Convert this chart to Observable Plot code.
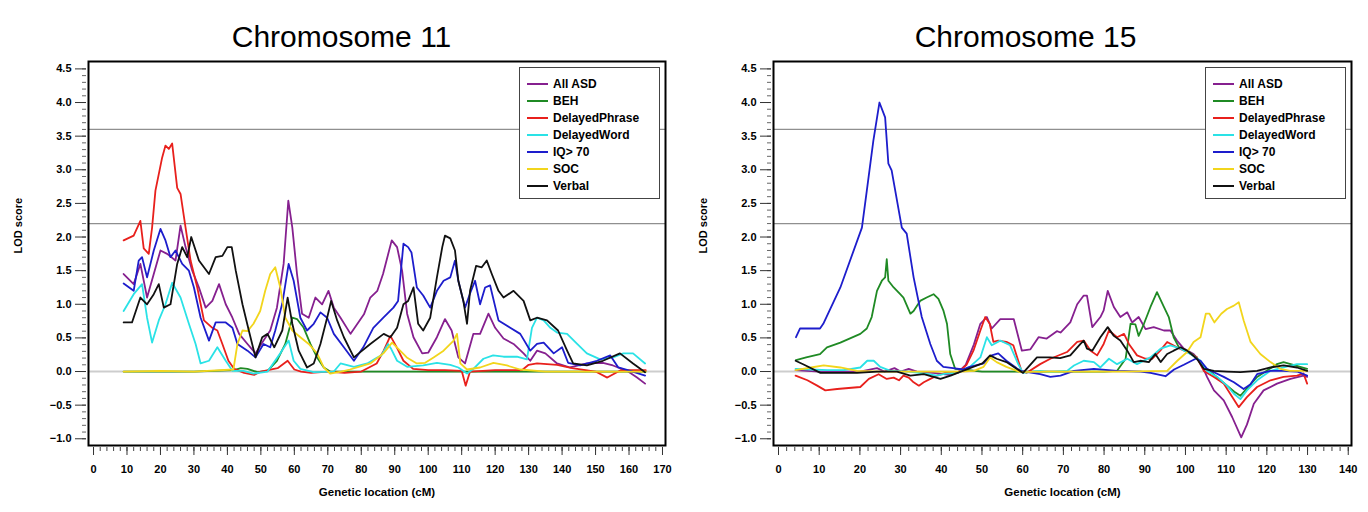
<!DOCTYPE html>
<html><head><meta charset="utf-8">
<script src="https://cdn.jsdelivr.net/npm/d3@7"></script>
<script src="https://cdn.jsdelivr.net/npm/@observablehq/plot@0.6"></script>
<style>
body{margin:0;background:#fff;}
#wrap{position:relative;width:1368px;height:512px;overflow:hidden;font-family:"Liberation Sans",Arial,sans-serif;}
.panel{position:absolute;top:0;}
.legend{position:absolute;background:#fff;border:1.5px solid #444;box-sizing:border-box;width:141px;height:132px;}
.legend .row{position:absolute;left:0;height:17px;display:flex;align-items:center;font-size:12px;font-weight:bold;color:#000;white-space:nowrap;}
.legend .sw{width:21px;height:2px;margin-left:7px;margin-right:5px;}
</style></head>
<body><div id="wrap"></div>
<script>
// ---------- labels, colours, ticks ----------
const seriesNames = ["All ASD","BEH","DelayedPhrase","DelayedWord","IQ> 70","SOC","Verbal"];
const seriesColors = ["#86208f","#1f8a24","#e8201c","#2ae2e6","#1d1dcc","#f2d51c","#111111"];
const titles = ["Chromosome 11","Chromosome 15"];
const xTicks11 = [0,10,20,30,40,50,60,70,80,90,100,110,120,130,140,150,160,170];
const xTicks15 = [0,10,20,30,40,50,60,70,80,90,100,110,120,130,140];
const yTicks = [-1.0,-0.5,0.0,0.5,1.0,1.5,2.0,2.5,3.0,3.5,4.0,4.5];
const thresholds = [2.2,3.6];

// ---------- Chromosome 11 : [cM, LOD] ----------
const chr11_AllASD = [[9,1.45],[12,1.3],[14,1.6],[16,1.1],[18,1.45],[20,1.8],[22,1.75],[24.5,1.65],[26,2.17],[27.5,1.85],[29.5,1.5],[31.5,1.25],[33.5,0.95],[35.5,1.05],[37.5,1.3],[39.5,1.0],[41.5,0.8],[43.5,0.56],[46,0.41],[48.4,0.27],[50.8,0.46],[52.8,0.61],[54.8,0.95],[56.8,1.6],[58.2,2.54],[59.4,2.14],[60.8,1.45],[62.3,0.86],[64.3,0.8],[66.3,1.1],[68.3,1.0],[70.2,1.2],[71.8,0.95],[73.8,0.8],[76.8,0.56],[80.8,0.85],[82.7,1.1],[84.8,1.2],[86.5,1.45],[89.1,1.95],[90.7,1.85],[92.2,1.5],[93.7,0.86],[95.6,0.51],[98.2,0.27],[100,0.28],[102.6,0.51],[105,0.78],[107,0.61],[109,0.21],[111,0.12],[113.5,0.56],[115.5,0.56],[118,0.86],[120,0.65],[122.5,0.49],[125.5,0.41],[128.5,0.27],[130.5,0.16],[132.5,0.31],[135,0.27],[138.5,0.12],[142.4,0.06],[147.4,0.12],[152.2,0.13],[155.2,0.09],[159.4,0.01],[162.4,-0.09],[164.8,-0.18]];
const chr11_BEH = [[9,0],[20,0],[30,0],[42,0.02],[44,0.05],[46,0.04],[49,-0.01],[52,0.01],[54.8,0.16],[57.3,0.41],[59.4,0.8],[60.8,0.78],[62.8,0.65],[64.8,0.41],[66.8,0.21],[68.8,0.06],[70.7,0],[90,0],[120,0],[150,0],[165,0]];
const chr11_DelayedPhrase = [[9,1.95],[12,2.02],[14,2.24],[15,1.83],[16.5,1.75],[17.5,2.14],[18.5,2.69],[20.5,3.18],[21.5,3.36],[22.5,3.31],[23.5,3.39],[25,2.73],[26,2.64],[27.5,2.14],[29,1.65],[31,1.25],[33,0.76],[35.5,0.65],[37,0.61],[38.5,0.41],[40.3,0.16],[42,0.04],[45,-0.02],[48,-0.05],[50,0],[55,0.05],[58,0.16],[60,0.03],[62,0],[65,-0.02],[70,0],[75,-0.02],[80,0],[84.6,0.12],[86.7,0.31],[88.7,0.53],[90.6,0.36],[92.6,0.16],[95.5,0.04],[100,0.02],[105,0.02],[110,0.01],[111.2,-0.21],[112.5,0],[120,0.02],[128,0.02],[130,0.1],[132.5,0.12],[138.5,0.1],[143,0.05],[150,0],[153.5,-0.09],[157.5,0.02],[165,0.02]];
const chr11_DelayedWord = [[9,0.9],[12,1.15],[14.5,1.3],[16,0.8],[17.5,0.43],[19.5,0.76],[21.5,1.0],[23.5,1.32],[26,1.1],[28.5,0.71],[30.5,0.41],[32,0.12],[34.5,0.16],[37,0.36],[39.5,0.16],[41.5,0.01],[44.8,0.01],[47.8,-0.03],[52,0],[55.8,0.27],[58.3,0.46],[59.8,0.16],[61.8,0.04],[65.8,-0.01],[71.8,0],[73.8,0.12],[77.8,0.07],[81.8,0.12],[84.5,0.2],[86,0.24],[88,0.41],[89,0.33],[90.7,0.16],[93.7,0.07],[98.5,0.09],[102.6,0.13],[106.6,0.1],[109,0.06],[111.6,-0.03],[113.5,0.04],[116.5,0.19],[119.4,0.24],[122.5,0.22],[126.5,0.22],[129.5,0.18],[131,0.65],[132.5,0.8],[134.5,0.76],[136.5,0.65],[138.5,0.58],[141.5,0.56],[144.5,0.41],[147.4,0.27],[151.4,0.18],[155.2,0.21],[158.3,0.27],[161.2,0.27],[164.8,0.12]];
const chr11_IQ70 = [[9,1.31],[12,1.2],[13.5,1.65],[14.5,1.7],[16,1.4],[18,1.8],[20,2.12],[21.5,1.95],[23,1.7],[24.5,1.8],[26.5,1.6],[28.5,1.5],[30,1.25],[32,0.8],[34.5,0.46],[36.5,0.73],[39.5,0.73],[41.5,0.65],[43,0.41],[46,0.31],[48.4,0.21],[50.8,0.41],[52.8,0.36],[54.3,0.61],[56.4,1.01],[58.3,1.6],[59.8,1.35],[61.8,0.8],[63.8,0.61],[65.8,0.71],[67.8,0.88],[69.8,0.8],[71.8,0.56],[74.8,0.36],[77.8,0.16],[80.6,0.36],[83.6,0.65],[86.6,0.8],[89.6,0.95],[91,1.05],[92.6,1.9],[94,1.85],[95,1.77],[96.6,1.25],[98.5,1.13],[100.6,0.95],[102.6,1.2],[104.6,1.35],[106.6,1.4],[108,1.65],[109,1.35],[111,0.95],[112.5,1.16],[114,1.35],[115.5,1.0],[117,1.25],[118.5,1.28],[121,0.76],[124.5,0.65],[127.5,0.56],[130.5,0.31],[132.5,0.41],[134.5,0.43],[137.5,0.27],[140,0.36],[141.8,0.13],[145.4,0.09],[150.4,0.16],[154.4,0.24],[156.8,0.06],[160.4,0.01],[164.8,-0.06]];
const chr11_SOC = [[9,0],[20,0.01],[30,0],[41.8,0.03],[43,0.41],[44.5,0.61],[46,0.6],[47.8,0.71],[49.8,0.9],[51.3,1.2],[52.8,1.45],[54.3,1.55],[55.8,1.25],[57.3,0.8],[59.4,0.61],[61.8,0.51],[64.3,0.41],[66.8,0.27],[68.8,0.06],[70.7,-0.03],[74,0],[76.6,0.03],[80,0.08],[82.7,0.12],[86.6,0.27],[89.2,0.43],[91.6,0.31],[93.6,0.21],[96.6,0.12],[99.1,0.13],[101.6,0.21],[104.6,0.31],[107.6,0.46],[108.6,0.56],[109.6,0.12],[111.6,0.03],[115.5,0.06],[119.5,0.13],[123.5,0.09],[127.5,0.03],[135,0],[150,0],[165,0]];
const chr11_Verbal = [[9,0.73],[11.5,0.73],[14,1.1],[16,1.0],[18,1.15],[19.5,1.3],[21,0.95],[23,1.0],[25,1.6],[26.5,1.85],[28,1.7],[29.2,2.0],[31.5,1.65],[34.5,1.45],[36.5,1.7],[38.5,1.72],[40,1.85],[41.3,1.85],[42.5,1.5],[44.5,1.0],[46.4,0.61],[48.4,0.21],[50.4,0.51],[52,0.56],[54,0.36],[56.4,0.61],[58,1.1],[59.4,0.71],[61.3,0.31],[63.8,0.06],[65.8,0.12],[67.8,0.41],[69.8,0.8],[71,1.05],[72.8,0.76],[74.8,0.51],[77.8,0.21],[80,0.3],[82.7,0.41],[86.7,0.56],[88.7,0.51],[90.7,0.65],[92.6,1.0],[94,1.05],[95.6,1.25],[97,0.71],[98.5,0.61],[100.6,0.8],[102.6,1.4],[104.2,1.85],[105,2.02],[106.6,1.98],[108,1.8],[109,1.35],[110.5,1.05],[111.6,0.71],[112.5,1.2],[114.3,1.57],[116,1.55],[117.5,1.65],[119,1.45],[121,1.2],[122.5,1.1],[125.5,1.2],[128.5,1.05],[130.5,0.76],[132.5,0.8],[135.5,0.76],[138.8,0.61],[141.5,0.31],[143.3,0.12],[147.4,0.09],[152.2,0.16],[157.3,0.27],[161.2,0.12],[164.8,-0.01]];

// ---------- Chromosome 15 : [cM, LOD] ----------
const chr15_AllASD = [[4.2,0.02],[10,0],[15,0],[20,0],[24.2,0.05],[26,0],[28.5,0.05],[30,0],[32,0.04],[34,0],[38,-0.02],[42,-0.05],[44,-0.02],[46,0.1],[48,0.4],[49.6,0.71],[51.2,0.81],[52.4,0.64],[54.5,0.78],[57.8,0.78],[59.8,0.31],[61.9,0.33],[63.9,0.51],[65.9,0.49],[68.4,0.6],[69.3,0.58],[71.7,0.73],[73.4,1.0],[75,1.13],[75.8,1.13],[77.1,0.66],[79.1,0.81],[79.9,0.91],[80.9,1.2],[82.4,0.96],[84,0.81],[85.7,0.88],[86.9,0.73],[88.5,0.81],[90.2,0.63],[92.2,0.66],[94.7,0.61],[96.3,0.61],[97.9,0.46],[99.6,0.34],[102,0.26],[103.7,0.14],[105.3,-0.08],[107,-0.28],[109.4,-0.43],[111.5,-0.68],[113.7,-0.98],[115.1,-0.79],[116.8,-0.48],[119.2,-0.28],[122.5,-0.18],[125.8,-0.11],[129,-0.06],[129.9,-0.08]];
const chr15_BEH = [[4.3,0.17],[6.8,0.21],[10.2,0.26],[11.9,0.36],[15.2,0.43],[20.1,0.56],[21.7,0.64],[22.9,0.81],[24.2,1.2],[25.4,1.35],[26.2,1.4],[26.6,1.67],[27,1.35],[28.3,1.25],[29.9,1.15],[30.7,1.1],[32.4,0.86],[33.2,0.9],[34.8,1.05],[36.4,1.1],[38.1,1.15],[39.3,1.08],[40.5,0.91],[41.4,0.71],[42.2,0.26],[43.4,0.04],[45.3,0.03],[50,0],[60,0],[70,0],[80,0],[83.2,0.01],[85.3,0.19],[86.5,0.71],[87.7,0.7],[88.5,0.53],[89.8,0.71],[91.4,0.96],[93,1.18],[94.7,0.96],[95.9,0.81],[97.1,0.51],[98.4,0.36],[100.4,0.31],[102.8,0.21],[104.1,0.09],[106.1,0],[108,-0.1],[110,-0.2],[112,-0.3],[113.5,-0.36],[115.1,-0.25],[117.6,-0.08],[120.9,0.05],[122.5,0.11],[124.1,0.14],[126.5,0.1],[129.9,0.04]];
const chr15_DelayedPhrase = [[4.2,-0.06],[7.1,-0.13],[9.5,-0.21],[11.5,-0.28],[14.4,-0.26],[20.1,-0.23],[22.2,-0.11],[24.6,-0.04],[26.6,-0.11],[28.3,-0.09],[29.6,-0.13],[30.7,-0.06],[32,-0.09],[33.2,-0.16],[34.5,-0.21],[35.7,-0.16],[37.3,-0.11],[39,-0.06],[41,-0.02],[44,-0.02],[46.2,0.1],[47.9,0.31],[49.6,0.61],[50.8,0.81],[51.9,0.71],[52.8,0.44],[54,0.46],[56,0.44],[57.7,0.39],[59.7,0.01],[61,-0.02],[64.3,0.11],[66.8,0.19],[70.9,0.29],[73.4,0.44],[75,0.46],[76.7,0.31],[78.3,0.24],[79.9,0.41],[81.2,0.61],[83.2,0.51],[84.9,0.56],[86.1,0.41],[88.1,0.24],[90.2,0.19],[91.8,0.19],[93.8,0.31],[95.5,0.44],[97.9,0.36],[100.4,0.29],[102.8,0.21],[104.5,0.01],[107,-0.08],[109.4,-0.18],[111.5,-0.38],[113.1,-0.53],[115.1,-0.38],[117.6,-0.23],[120.9,-0.13],[124.1,-0.08],[127.4,-0.06],[129,-0.03],[129.9,-0.18]];
const chr15_DelayedWord = [[4.2,0.04],[8,0.03],[12,0.02],[16,0.02],[20.1,0.06],[21.8,0.16],[23.4,0.16],[25,0.07],[27.5,0.01],[32,0],[36,-0.03],[38.9,-0.06],[41,-0.03],[44,-0.02],[47,0.07],[49.6,0.21],[51.2,0.51],[52.4,0.39],[54.5,0.46],[56.9,0.39],[58.9,0.11],[60.1,-0.02],[64.3,0.01],[66.8,-0.01],[70.9,0.01],[72.6,0.09],[75,0.16],[77.5,0.14],[79.1,0.06],[81.2,0.19],[83.2,0.11],[85.7,0.19],[88.1,0.11],[91.4,0.21],[93.9,0.34],[96.3,0.39],[98.8,0.34],[101.2,0.26],[103.7,0.16],[105.3,0.01],[107.8,-0.08],[110.2,-0.21],[111.9,-0.33],[113.5,-0.41],[115.1,-0.28],[117.6,-0.13],[120.9,0.01],[124.1,0.06],[127.4,0.11],[129.9,0.11]];
const chr15_IQ70 = [[4.3,0.51],[5.3,0.64],[10.2,0.64],[11,0.71],[15.2,1.25],[20.5,2.14],[21.7,2.69],[23.3,3.43],[24.8,4.0],[26.2,3.78],[27,3.09],[27.8,2.99],[30.3,2.14],[31.5,2.05],[33.2,1.4],[35.2,0.81],[37.3,0.41],[38.9,0.16],[40.5,0.07],[42.9,0.05],[45.3,0.03],[47,0.07],[50.4,0.12],[52.4,0.24],[54,0.27],[56,0.16],[59.4,0.01],[64.3,-0.04],[66.8,-0.08],[69.3,-0.06],[72.6,0.01],[77.5,0.04],[83.2,0.01],[89,0],[91.4,-0.02],[95.1,-0.07],[97.2,0.03],[99.6,0.1],[102.5,0.19],[103.7,0.16],[105.3,0.04],[107,-0.01],[109.4,-0.08],[111.9,-0.16],[114.3,-0.26],[116,-0.19],[117.6,-0.04],[120.9,0.01],[124.1,0.01],[127.4,0],[129.9,-0.06]];
const chr15_SOC = [[4.2,0.02],[8,0.06],[11.1,0.09],[15.2,0.06],[19.3,0.01],[25,0],[35,0],[45,0],[48,0.01],[50.4,0.07],[52,0.21],[53.6,0.14],[56,0.07],[59.4,-0.01],[65,0],[75,0],[85,0],[95.5,0.01],[98,0.16],[100.4,0.29],[102,0.44],[103.7,0.51],[105,0.86],[105.9,0.86],[107.1,0.73],[108.8,0.86],[110.2,0.93],[111.9,0.98],[113.1,1.03],[114.3,0.76],[116,0.44],[118.4,0.26],[120.9,0.14],[123.3,0.04],[125.7,0.01],[129.9,0.01]];
const chr15_Verbal = [[4.2,0.16],[6.3,0.1],[10.3,-0.02],[19.3,-0.02],[24.2,0],[29.1,0],[32.4,-0.06],[35.7,-0.04],[39.8,-0.11],[42.3,-0.06],[44,-0.02],[47.5,0.06],[50.1,0.12],[52,0.24],[53.6,0.19],[56,0.14],[58.5,0.04],[60.1,-0.02],[63.5,0.21],[66.7,0.21],[69.2,0.2],[71.7,0.24],[74.2,0.41],[75,0.46],[75.8,0.34],[77.1,0.31],[79.1,0.51],[80.9,0.66],[82.4,0.53],[84,0.46],[85.7,0.31],[87.3,0.14],[88.9,0.16],[91,0.14],[92.6,0.26],[93.9,0.14],[95.5,0.26],[97.1,0.31],[98.8,0.36],[100.4,0.31],[102.8,0.19],[104.5,0.04],[107,0.01],[110.2,0],[113.5,-0.01],[117.6,0.01],[120.9,0.06],[124.1,0.09],[127.4,0.06],[129.9,0.01]];

const chr11 = [chr11_AllASD, chr11_BEH, chr11_DelayedPhrase, chr11_DelayedWord, chr11_IQ70, chr11_SOC, chr11_Verbal];
const chr15 = [chr15_AllASD, chr15_BEH, chr15_DelayedPhrase, chr15_DelayedWord, chr15_IQ70, chr15_SOC, chr15_Verbal];

const FONT = "Liberation Sans, Arial, Helvetica, sans-serif";
const fmtY = d => d.toFixed(1).replace("-", "\u2212");
const yMinor = d3.range(-10, 46).map(v => v / 10);

function panel({title, series, xTicks, xDomain, marginLeft, marginRight, titleDx}) {
  const xMax = xTicks[xTicks.length - 1];
  const xMinor = d3.range(0, xMax + 1, 2);
  const lines = series.map((s, i) => Plot.line(s, {x: d => d[0], y: d => d[1], stroke: seriesColors[i], strokeWidth: 1.8, strokeLinejoin: "round"}));
  return Plot.plot({
    width: 684, height: 512,
    marginLeft, marginRight, marginTop: 61, marginBottom: 67,
    x: {domain: xDomain, label: null},
    y: {domain: [-1.1, 4.61], label: null},
    style: {fontFamily: FONT, fontSize: "11px", fontWeight: "bold", background: "transparent", overflow: "visible"},
    marks: [
      Plot.ruleY([0], {stroke: "#cdcdcd", strokeWidth: 2}),
      Plot.ruleY(thresholds, {stroke: "#8f8f8f", strokeWidth: 1.3}),
      ...lines,
      Plot.frame({stroke: "#000", strokeWidth: 2}),
      Plot.axisX(xMinor, {tickSize: 4, dy: 2, tickFormat: () => "", label: null, stroke: "#444"}),
      Plot.axisX(xTicks, {tickSize: 8, dy: 2, tickPadding: 10, tickFormat: d => String(d), label: null, stroke: "#333"}),
      Plot.axisY(yMinor, {tickSize: 4, dx: -2, tickFormat: () => "", label: null, stroke: "#666"}),
      Plot.axisY(yTicks, {tickSize: 11, dx: -2, tickPadding: 4, tickFormat: fmtY, label: null, stroke: "#333"}),
      Plot.text([title], {frameAnchor: "top", dy: -36, dx: titleDx, fontSize: 30, fontWeight: "normal", fill: "#000"}),
      Plot.text(["LOD score"], {frameAnchor: "left", dx: -70, rotate: -90, fontSize: 11, fontWeight: "bold"}),
      Plot.text(["Genetic location (cM)"], {frameAnchor: "bottom", dy: 50, fontSize: 11.5, fontWeight: "bold"})
    ]
  });
}

function legend(left, top) {
  const box = document.createElement("div");
  box.className = "legend";
  box.style.left = left + "px";
  box.style.top = top + "px";
  seriesNames.forEach((n, i) => {
    const row = document.createElement("div");
    row.className = "row";
    row.style.top = (7 + i * 17) + "px";
    const sw = document.createElement("span");
    sw.className = "sw";
    sw.style.background = seriesColors[i];
    const tx = document.createElement("span");
    tx.textContent = n;
    row.appendChild(sw); row.appendChild(tx);
    box.appendChild(row);
  });
  return box;
}

const wrap = document.getElementById("wrap");
const p1 = panel({title: titles[0], series: chr11, xTicks: xTicks11, xDomain: [-1.5, 170.9], marginLeft: 88, marginRight: 19, titleDx: -35.5});
p1.classList.add("panel"); p1.style.left = "0px";
const p2 = panel({title: titles[1], series: chr15, xTicks: xTicks15, xDomain: [-1.23, 140.8], marginLeft: 89, marginRight: 17, titleDx: -37});
p2.classList.add("panel"); p2.style.left = "684px";
wrap.appendChild(p1);
wrap.appendChild(p2);
wrap.appendChild(legend(519, 67));
wrap.appendChild(legend(1205, 67));
</script>
</body></html>
